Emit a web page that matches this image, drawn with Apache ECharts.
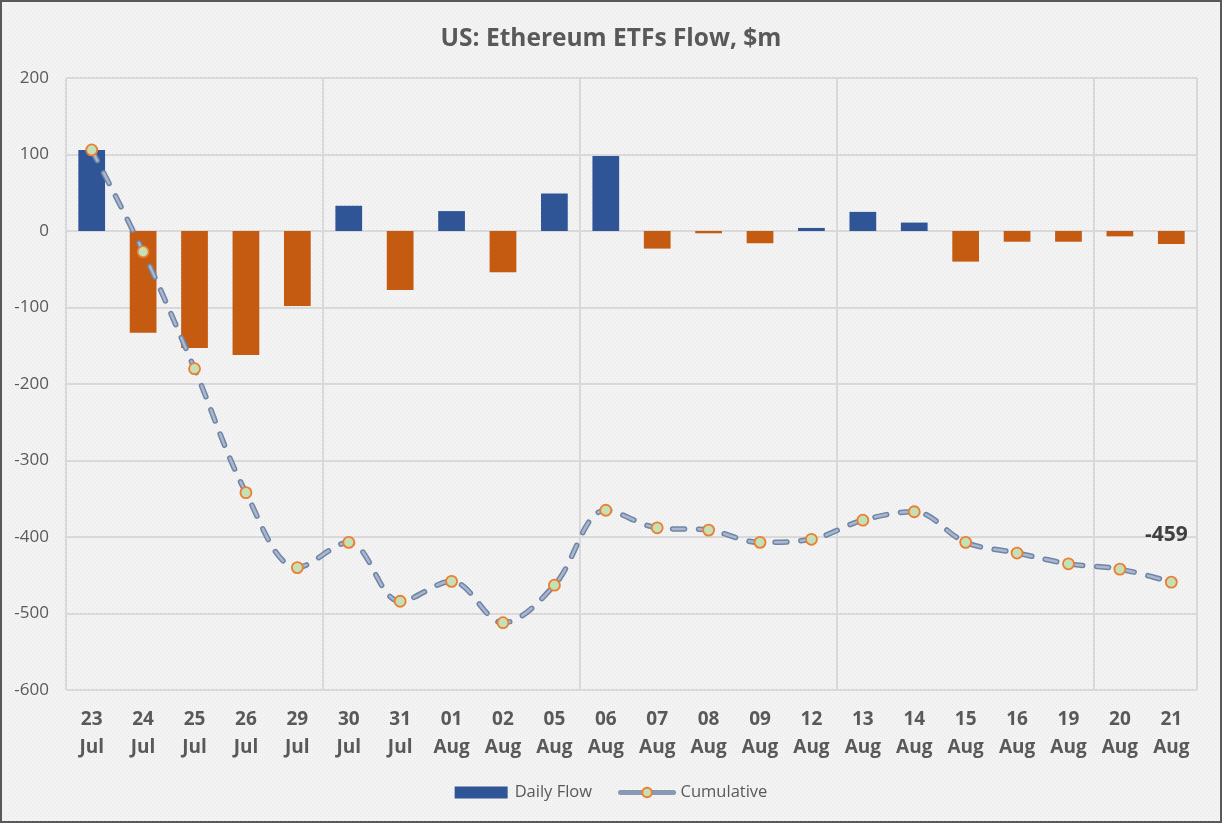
<!DOCTYPE html>
<html>
<head>
<meta charset="utf-8">
<script src="https://cdn.jsdelivr.net/npm/echarts@6/dist/echarts.min.js"></script>
<style>
html,body{margin:0;padding:0;background:#f2f2f2;}
#chart{width:1222px;height:823px;}
</style>
</head>
<body>
<div id="chart"></div>
<script>
const days = ['23','24','25','26','29','30','31','01','02','05','06','07','08','09','12','13','14','15','16','19','20','21'];
const months = ['Jul','Jul','Jul','Jul','Jul','Jul','Jul','Aug','Aug','Aug','Aug','Aug','Aug','Aug','Aug','Aug','Aug','Aug','Aug','Aug','Aug','Aug'];
const dailyFlow = [106,-133,-153,-162,-98,33,-77,26,-54,49,98,-23,-3,-16,4,25,11,-40,-14,-14,-7,-17];
const cumulative = [106,-27,-180,-342,-440,-407,-484,-458,-512,-463,-365,-388,-391,-407,-403,-378,-367,-407,-421,-435,-442,-459];
const yTicks = {min:-600, max:200, interval:100};

const categories = days.map((d,i)=>d+'\n'+months[i]);

// dotted background pattern
const pc = document.createElement('canvas');
pc.width = 4; pc.height = 4;
const pctx = pc.getContext('2d');
pctx.fillStyle = '#f3f3f3'; pctx.fillRect(0,0,4,4);
pctx.fillStyle = '#e6e6e6'; pctx.fillRect(0,0,1,1); pctx.fillRect(2,2,1,1);

const FONT = "'Open Sans', 'Noto Sans', sans-serif";
const chart = echarts.init(document.getElementById('chart'), null, {renderer:'canvas'});
const last = cumulative.length-1;
chart.setOption({
  backgroundColor: {image: pc, repeat: 'repeat'},
  animation: false,
  title: {
    text: 'US: Ethereum ETFs Flow, $m',
    left: 'center', top: 22,
    textStyle: {fontFamily: FONT, fontSize: 24.5, fontWeight: 'bold', color: '#595959'}
  },
  graphic: [{
    type: 'rect', silent: true, z: 100,
    shape: {x: 1, y: 1, width: 1220, height: 821},
    style: {fill: 'none', stroke: '#595959', lineWidth: 2}
  }],
  legend: {
    bottom: 17, left: 'center', itemGap: 26, itemWidth: 53, itemHeight: 12,
    textStyle: {fontFamily: FONT, fontSize: 16.5, color: '#595959', padding: [0, 0, 0, 2]},
    data: [
      {name: 'Daily Flow', icon: 'rect', itemStyle: {color: '#2f5597'}},
      {name: 'Cumulative', lineStyle: {color: '#8799b5', width: 5, type: 'solid'}}
    ]
  },
  grid: {left: 66, right: 25, top: 78, bottom: 133},
  xAxis: {
    type: 'category', data: categories,
    axisLine: {show: false, onZero: false},
    axisTick: {show: false},
    splitLine: {show: true, interval: function(i){return i % 5 === 0;}, lineStyle: {color: '#d9d9d9', width: 2}},
    axisLabel: {fontFamily: FONT, fontSize: 19, fontWeight: 'bold', color: '#595959', lineHeight: 28, margin: 16, interval: 0}
  },
  yAxis: {
    type: 'value', min: yTicks.min, max: yTicks.max, interval: yTicks.interval,
    axisLine: {show: false}, axisTick: {show: false},
    splitLine: {lineStyle: {color: '#d9d9d9', width: 2}},
    axisLabel: {fontFamily: FONT, fontSize: 17, color: '#595959', margin: 17}
  },
  series: [
    {
      name: 'Daily Flow', type: 'bar', data: dailyFlow, barWidth: '52%', z: 1,
      itemStyle: {color: function(p){return p.value >= 0 ? '#2f5597' : '#c55a11';}}
    },
    {
      name: 'CumulativeOutline', type: 'line', data: cumulative, smooth: 0.35, z: 3,
      symbol: 'none',
      lineStyle: {color: '#7085a6', width: 5.5, type: [12, 14], cap: 'round'},
      legendHoverLink: false
    },
    {
      name: 'Cumulative', type: 'line', data: cumulative, smooth: 0.35, z: 4,
      symbol: 'circle', symbolSize: 11,
      itemStyle: {color: '#c5e0b4', borderColor: '#ed7d31', borderWidth: 1.8},
      lineStyle: {color: '#a9b8cf', width: 2.5, type: [12, 14], cap: 'round'},
      label: {
        show: true,
        formatter: function(p){return p.dataIndex === last ? String(p.value) : '';},
        position: 'top', distance: 30,
        fontFamily: FONT, fontSize: 21, fontWeight: 'bold', color: '#404040', offset: [-5, 0]
      }
    }
  ]
});
</script>
</body>
</html>
